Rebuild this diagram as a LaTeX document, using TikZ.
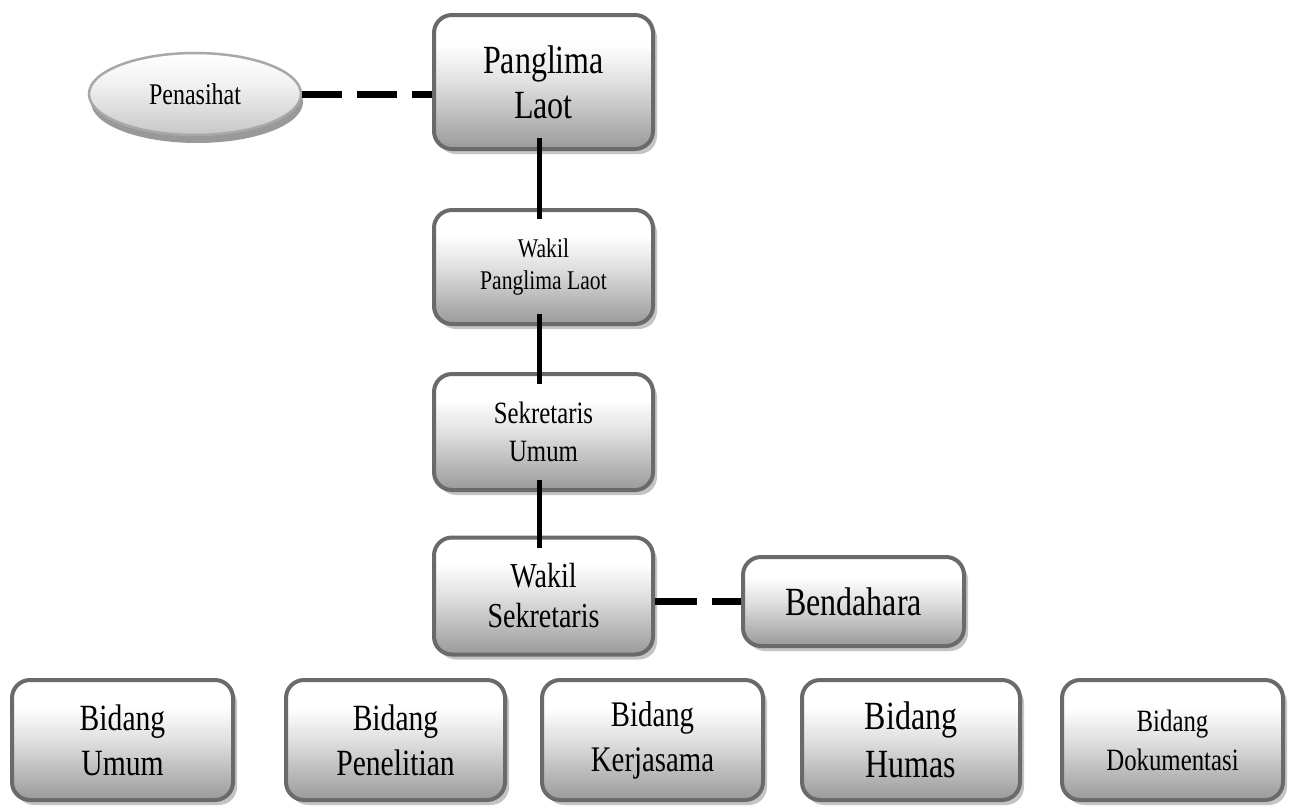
\documentclass[tikz,border=0pt]{standalone}
\usepackage{fontspec}
\setmainfont{Liberation Serif}[FakeStretch=0.8]
\usetikzlibrary{shapes.geometric,shadows}
\definecolor{boxline}{HTML}{6A6A6A}
\definecolor{boxbot}{HTML}{9A9A9A}
\definecolor{boxmid}{HTML}{E0E0E0}
\definecolor{shadegray}{HTML}{C4C4C4}
\definecolor{ellline}{HTML}{A8A8A8}
\pgfdeclareverticalshading{boxshade}{100bp}{color(0bp)=(boxbot); color(25bp)=(boxbot); color(50bp)=(boxmid); color(64bp)=(white); color(100bp)=(white)}
\pgfdeclareverticalshading{ovalshade}{100bp}{color(0bp)=(black!22); color(25bp)=(black!22); color(55bp)=(black!6); color(75bp)=(white); color(100bp)=(white)}
\begin{document}
\begin{tikzpicture}[x=1pt,y=-1pt,
  box/.style={draw=boxline, line width=4pt, rounded corners=18pt,
    shading=boxshade, align=center, inner sep=0pt,
    drop shadow={shadow xshift=4pt, shadow yshift=-5pt, fill=shadegray, opacity=1}},
  oval/.style={ellipse, draw=ellline, line width=2.5pt, shading=ovalshade,
    align=center, inner sep=0pt,
    drop shadow={shadow xshift=2pt, shadow yshift=-8pt, fill=black!40, opacity=1}},
  solidconn/.style={line width=5pt, black},
  dashconn/.style={line width=7pt, black, dash pattern=on 40pt off 15pt}]
\useasboundingbox (0,0) rectangle (1290,809);
\fill[white] (0,0) rectangle (1290,809);

\node[oval, minimum width=212pt, minimum height=82pt,
  font=\fontsize{30}{34}\selectfont] (pen) at (195,94) {Penasihat};

\node[box, minimum width=219pt, minimum height=134pt,
  font=\fontsize{40}{45}\selectfont] (pl) at (543.5,82) {Panglima\\Laot};
\node[box, minimum width=219pt, minimum height=114pt,
  font=\fontsize{27}{32}\selectfont] (wp) at (543.5,267) {Wakil\\Panglima Laot};
\node[box, minimum width=219pt, minimum height=116pt,
  font=\fontsize{31}{38}\selectfont] (su) at (543.5,432) {Sekretaris\\Umum};
\node[box, minimum width=219pt, minimum height=117pt,
  font=\fontsize{35}{40}\selectfont] (ws) at (543.5,596) {Wakil\\Sekretaris};
\node[box, minimum width=221pt, minimum height=89pt,
  font=\fontsize{40}{45}\selectfont] (bd) at (853.5,601.5) {Bendahara};

\node[box, minimum width=221pt, minimum height=120pt,
  font=\fontsize{37}{45}\selectfont] (bu) at (122.5,740) {Bidang\\Umum};
\node[box, minimum width=219pt, minimum height=120pt,
  font=\fontsize{37}{45}\selectfont] (bp) at (395.5,740) {Bidang\\Penelitian};
\node[box, minimum width=221pt, minimum height=120pt,
  font=\fontsize{36}{45}\selectfont] (bk) at (652.5,740) {Bidang\\Kerjasama};
\node[box, minimum width=218pt, minimum height=120pt,
  font=\fontsize{40}{48}\selectfont] (bh) at (911,740) {Bidang\\Humas};
\node[box, minimum width=221pt, minimum height=120pt,
  font=\fontsize{31}{39}\selectfont] (bdok) at (1172.5,740) {Bidang\\Dokumentasi};

\draw[solidconn] ([xshift=-4.5pt,yshift=13pt]pl.south) -- ([xshift=-4.5pt,yshift=-11pt]wp.north);
\draw[solidconn] ([xshift=-4.5pt,yshift=12pt]wp.south) -- ([xshift=-4.5pt,yshift=-12pt]su.north);
\draw[solidconn] ([xshift=-4.5pt,yshift=12pt]su.south) -- ([xshift=-4.5pt,yshift=-12pt]ws.north);

\draw[dashconn] (pen.east) -- (pen.east -| pl.west);
\draw[dashconn, dash pattern=on 42pt off 15pt] (ws.east |- bd.west) -- (bd.west);
\end{tikzpicture}
\end{document}
